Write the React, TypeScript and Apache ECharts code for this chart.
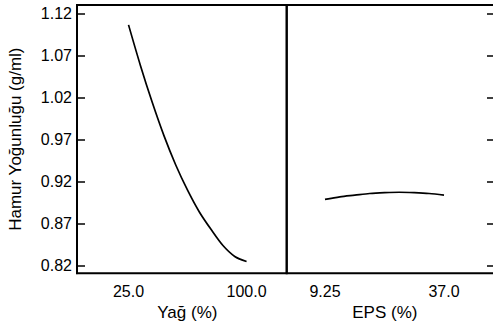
import React, { useEffect, useRef } from "react";
import * as echarts from "echarts";

const yTickValues = [0.82, 0.87, 0.92, 0.97, 1.02, 1.07, 1.12];
const yagTickValues = [25, 100];
const yagTickLabels = ["25.0", "100.0"];
const epsTickValues = [9.25, 37];
const epsTickLabels = ["9.25", "37.0"];

const yagX = [25, 32.5, 40, 47.5, 55, 62.5, 70, 77.5, 85, 92.5, 100];
const yagY = [1.107, 1.059, 1.015, 0.975, 0.94, 0.91, 0.884, 0.863, 0.844, 0.831, 0.825];
const epsX = [9.25, 12.72, 16.19, 19.66, 23.13, 26.59, 30.06, 33.53, 37.0];
const epsY = [0.899, 0.902, 0.904, 0.906, 0.907, 0.9075, 0.907, 0.906, 0.904];

const FONT = "'Liberation Sans', Arial, Helvetica, sans-serif";

export default function App() {
  const ref = useRef<HTMLDivElement>(null);
  useEffect(() => {
    document.body.style.margin = "0";
    const chart = echarts.init(ref.current!, null, { renderer: "svg" });
    const labelStyle = { color: "#000", fontFamily: FONT, fontSize: 16 };
    const nameStyle = { color: "#000", fontFamily: FONT, fontSize: 17 };
    const yMin = 0.8109;
    const yMax = 1.1307;
    chart.setOption({
      animation: false,
      backgroundColor: "#fff",
      grid: [
        { left: 77, top: 5, width: 209.7, height: 268.3, show: true, borderColor: "#000", borderWidth: 2, containLabel: false, outerBoundsMode: "none" },
        { left: 286.7, top: 5, width: 207.3, height: 268.3, show: true, borderColor: "#000", borderWidth: 2, containLabel: false, outerBoundsMode: "none" },
      ],
      xAxis: [
        {
          type: "value",
          gridIndex: 0,
          min: -7.74,
          max: 125.5,
          splitLine: { show: false },
          axisLine: { show: false },
          axisTick: { show: false },
          axisLabel: {
            ...labelStyle,
            margin: 10,
            customValues: yagTickValues,
            formatter: (v: number) => yagTickLabels[yagTickValues.indexOf(v)] ?? "",
          },
          name: "Yağ (%)",
          nameLocation: "middle",
          nameGap: 25,
          nameTextStyle: { ...nameStyle, padding: [0, 0, 0, 11] },
        },
        {
          type: "value",
          gridIndex: 1,
          min: 0.318,
          max: 48.66,
          splitLine: { show: false },
          axisLine: { show: false },
          axisTick: { show: false },
          axisLabel: {
            ...labelStyle,
            margin: 10,
            customValues: epsTickValues,
            formatter: (v: number) => epsTickLabels[epsTickValues.indexOf(v)] ?? "",
          },
          name: "EPS (%)",
          nameLocation: "middle",
          nameGap: 25,
          nameTextStyle: { ...nameStyle, padding: [0, 11, 0, 0] },
        },
      ],
      yAxis: [
        {
          type: "value",
          gridIndex: 0,
          position: "left",
          min: yMin,
          max: yMax,
          splitLine: { show: false },
          axisLine: { show: true, onZero: false, lineStyle: { color: "#000", width: 2 } },
          axisTick: {
            show: true,
            inside: true,
            length: 8,
            customValues: yTickValues,
            lineStyle: { color: "#000", width: 1.5 },
          },
          axisLabel: {
            ...labelStyle,
            margin: 5,
            customValues: yTickValues,
            formatter: (v: number) => v.toFixed(2),
          },
          name: "Hamur Yoğunluğu (g/ml)",
          nameLocation: "middle",
          nameRotate: 90,
          nameGap: 53,
          nameTextStyle: nameStyle,
        },
        {
          type: "value",
          gridIndex: 1,
          position: "right",
          min: yMin,
          max: yMax,
          splitLine: { show: false },
          axisLine: { show: false, onZero: false },
          axisTick: {
            show: true,
            inside: true,
            length: 7,
            customValues: yTickValues,
            lineStyle: { color: "#000", width: 1.5 },
          },
          axisLabel: { show: false },
        },
      ],
      series: [
        {
          type: "line",
          xAxisIndex: 0,
          yAxisIndex: 0,
          data: yagX.map((x, i) => [x, yagY[i]]),
          smooth: 0.3,
          showSymbol: false,
          lineStyle: { color: "#000", width: 1.7 },
        },
        {
          type: "line",
          xAxisIndex: 1,
          yAxisIndex: 1,
          data: epsX.map((x, i) => [x, epsY[i]]),
          smooth: 0.3,
          showSymbol: false,
          lineStyle: { color: "#000", width: 1.7 },
        },
      ],
    });
    return () => chart.dispose();
  }, []);
  return <div ref={ref} style={{ width: 493, height: 324 }} />;
}
